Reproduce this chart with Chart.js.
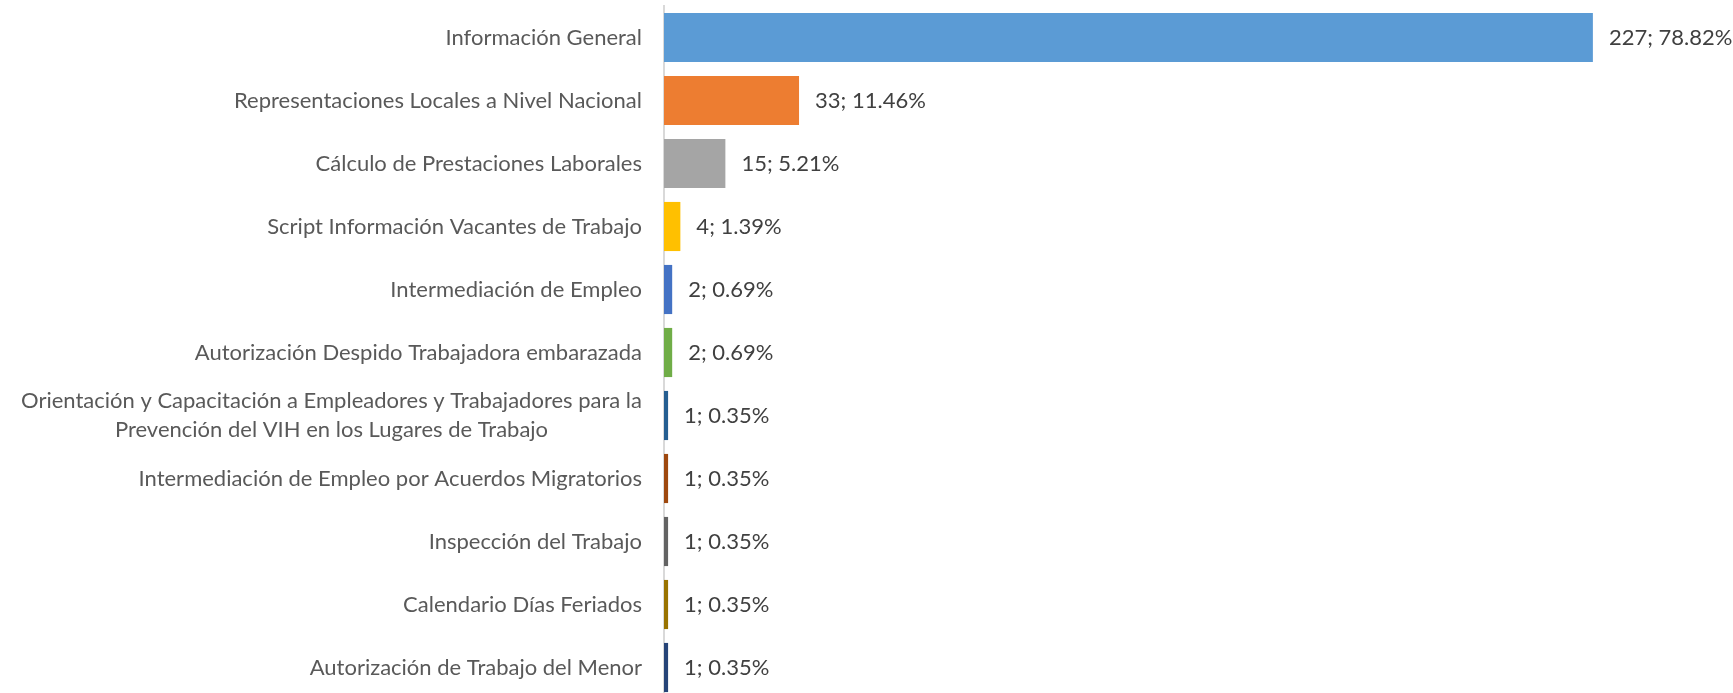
<!DOCTYPE html>
<html>
<head>
<meta charset="utf-8">
<script src="https://cdn.jsdelivr.net/npm/chart.js@4/dist/chart.umd.min.js"></script>
<style>
  html, body { margin: 0; padding: 0; background: #fff; overflow: hidden; }
  #wrap { position: relative; width: 1733px; height: 699px; }
</style>
</head>
<body>
<div id="wrap"><canvas id="motivosChart"></canvas></div>
<script>
const categories = [
  'Información General',
  'Representaciones Locales a Nivel Nacional',
  'Cálculo de Prestaciones Laborales',
  'Script Información Vacantes de Trabajo',
  'Intermediación de Empleo',
  'Autorización Despido Trabajadora embarazada',
  ['Orientación y Capacitación a Empleadores y Trabajadores para la', 'Prevención del VIH en los Lugares de Trabajo'],
  'Intermediación de Empleo por Acuerdos Migratorios',
  'Inspección del Trabajo',
  'Calendario Días Feriados',
  'Autorización de Trabajo del Menor'
];
const counts = [227, 33, 15, 4, 2, 2, 1, 1, 1, 1, 1];
const barColors = [
  '#5B9BD5', '#ED7D31', '#A5A5A5', '#FFC000', '#4472C4', '#70AD47',
  '#255E91', '#9E480E', '#636363', '#997300', '#264478'
];

const total = counts.reduce((a, b) => a + b, 0);
const FONT = { family: 'Lato', size: 22 };

// value labels "n; p%" at the end of each bar
const barLabels = {
  id: 'barLabels',
  afterDatasetsDraw(chart) {
    const c = chart.ctx;
    const meta = chart.getDatasetMeta(0);
    c.save();
    c.font = `${FONT.size}px ${FONT.family}`;
    c.fillStyle = '#404040';
    c.textAlign = 'left';
    c.textBaseline = 'middle';
    meta.data.forEach((bar, i) => {
      const pct = (counts[i] / total * 100).toFixed(2);
      c.fillText(counts[i] + '; ' + pct + '%', bar.x + 16, bar.y);
    });
    c.restore();
  }
};

// two-line category label is centred on itself, like Excel does
const wrappedLabels = {
  id: 'wrappedLabels',
  afterDraw(chart) {
    const y = chart.scales.y;
    const c = chart.ctx;
    c.save();
    c.font = `${FONT.size}px ${FONT.family}`;
    c.fillStyle = '#595959';
    c.textAlign = 'center';
    c.textBaseline = 'middle';
    categories.forEach((lab, i) => {
      if (!Array.isArray(lab)) return;
      const w = Math.max(...lab.map(s => c.measureText(s).width));
      const cx = y.right - 22 - w / 2;
      const cy = y.getPixelForTick(i);
      const lh = 29;
      lab.forEach((s, k) => {
        c.fillText(s, cx, cy + (k - (lab.length - 1) / 2) * lh);
      });
    });
    c.restore();
  }
};

new Chart(document.getElementById('motivosChart'), {
  type: 'bar',
  data: {
    labels: categories,
    datasets: [{
      data: counts,
      backgroundColor: barColors,
      borderWidth: 0,
      barPercentage: 0.78,
      categoryPercentage: 1
    }]
  },
  options: {
    indexAxis: 'y',
    responsive: true,
    maintainAspectRatio: false,
    animation: false,
    layout: { padding: { top: 6, right: 46, bottom: 0, left: 0 } },
    plugins: {
      legend: { display: false },
      tooltip: { enabled: false }
    },
    scales: {
      x: {
        display: false,
        min: 0,
        max: 250
      },
      y: {
        grid: { display: false, drawTicks: false },
        border: { display: true, color: '#D9D9D9', width: 2 },
        afterFit: (scale) => {
          scale.width = 664;
          scale.paddingTop = 0;
          scale.paddingBottom = 0;
        },
        ticks: {
          padding: 22,
          font: FONT,
          color: (ctx) => Array.isArray(categories[ctx.index]) ? 'rgba(0,0,0,0)' : '#595959'
        }
      }
    }
  },
  plugins: [barLabels, wrappedLabels]
});
</script>
</body>
</html>
